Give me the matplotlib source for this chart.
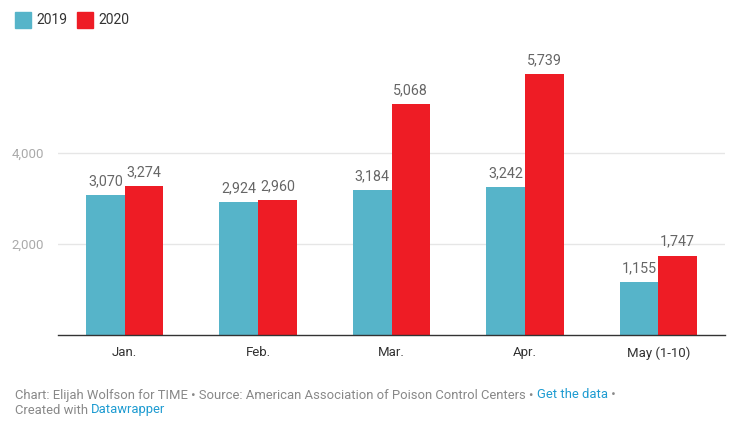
import matplotlib.pyplot as plt
import numpy as np

plt.rcParams['font.family'] = ['Roboto', 'DejaVu Sans']

months = ['Jan.', 'Feb.', 'Mar.', 'Apr.', 'May (1-10)']
calls_2019 = [3070, 2924, 3184, 3242, 1155]
calls_2020 = [3274, 2960, 5068, 5739, 1747]
yticks = [2000, 4000]

c2019 = '#56b4c9'
c2020 = '#ee1c25'

fig = plt.figure(figsize=(7.35, 4.22), dpi=100)
ax = fig.add_axes([58 / 735, 1 - 335 / 422, 667 / 735, (335 - 62) / 422])

x = np.arange(len(months))
w = 0.29
b1 = ax.bar(x - w / 2, calls_2019, w, color=c2019)
b2 = ax.bar(x + w / 2, calls_2020, w, color=c2020)

for bars in (b1, b2):
    for r in bars:
        ax.text(r.get_x() + r.get_width() / 2, r.get_height() + 150, f'{int(r.get_height()):,}',
                ha='center', va='bottom', fontsize=10.3, color='#666666')

ax.set_xlim(-0.5, 4.5)
ax.set_ylim(0, 6000)
ax.set_yticks(yticks)
ax.set_yticklabels([f'{v:,}' for v in yticks])
ax.yaxis.grid(True, color='#e6e6e6', linewidth=1)
ax.set_axisbelow(True)
ax.tick_params(axis='y', length=0, pad=10, labelsize=9.5, labelcolor='#aaaaaa')
ax.set_xticks(x)
ax.set_xticklabels(months)
ax.tick_params(axis='x', length=0, pad=8, labelsize=9.5, labelcolor='#333333')
for s in ['top', 'right', 'left']:
    ax.spines[s].set_visible(False)
ax.spines['bottom'].set_color('#333333')
ax.spines['bottom'].set_linewidth(1)

# legend
fig.patches.append(plt.Rectangle((15 / 735, 1 - 28 / 422), 16 / 735, 16 / 422,
                                 transform=fig.transFigure, color=c2019))
fig.text(36 / 735, 1 - 20 / 422, '2019', fontsize=10, color='#333333', va='center')
fig.patches.append(plt.Rectangle((77 / 735, 1 - 28 / 422), 16 / 735, 16 / 422,
                                 transform=fig.transFigure, color=c2020))
fig.text(98 / 735, 1 - 20 / 422, '2020', fontsize=10, color='#333333', va='center')

# footer
grey = '#888888'
link = '#1d9bd1'
fs = 9.4
t1 = fig.text(15 / 735, 1 - 395 / 422,
              'Chart: Elijah Wolfson for TIME \u2022 Source: American Association of Poison Control Centers \u2022 ',
              fontsize=fs, color=grey, va='center')
fig.canvas.draw()
r = fig.canvas.get_renderer()
bb = t1.get_window_extent(r)
t2 = fig.text(bb.x1 / 735, 1 - 395 / 422, 'Get the data', fontsize=fs, color=link, va='center')
bb2 = t2.get_window_extent(r)
fig.text(bb2.x1 / 735, 1 - 395 / 422, ' \u2022', fontsize=fs, color=grey, va='center')
t3 = fig.text(15 / 735, 1 - 410 / 422, 'Created with ', fontsize=fs, color=grey, va='center')
bb3 = t3.get_window_extent(r)
fig.text(bb3.x1 / 735, 1 - 410 / 422, 'Datawrapper', fontsize=fs, color=link, va='center')

fig.savefig('out.png', dpi=100)
